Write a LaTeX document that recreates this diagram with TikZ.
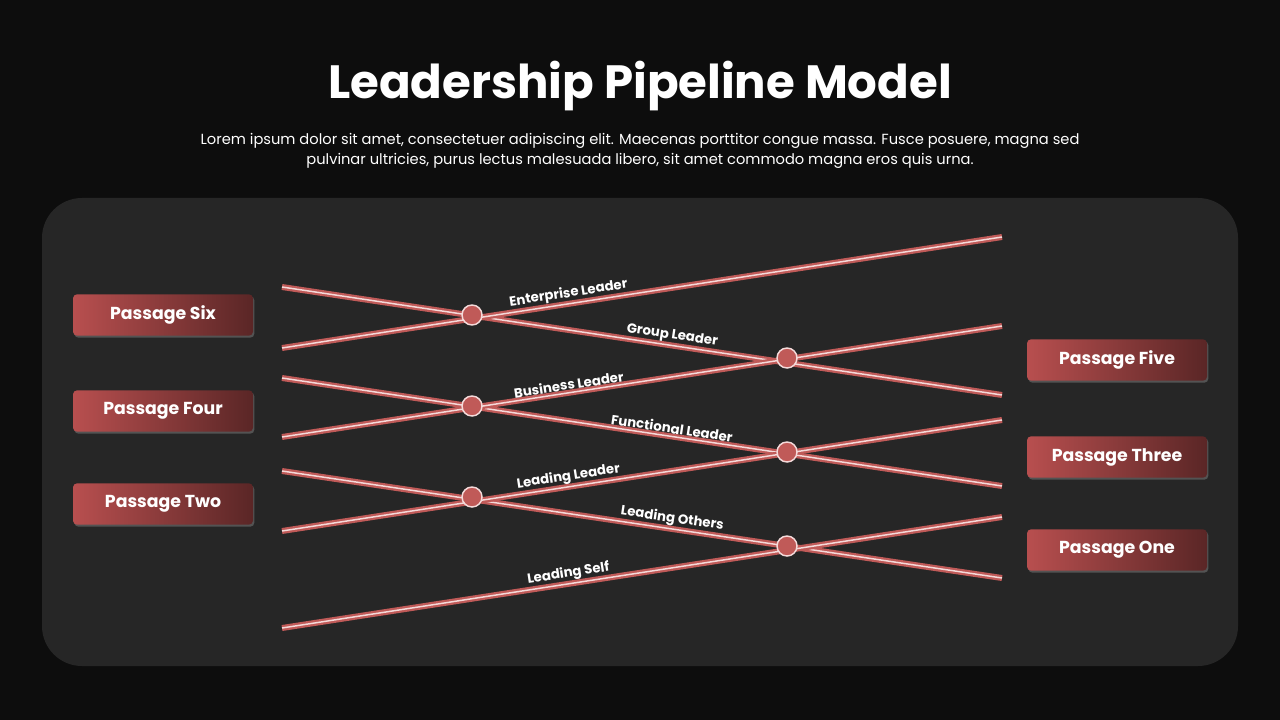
\documentclass[tikz,border=0pt]{standalone}
\usepackage{fontspec}
\setmainfont{Poppins}
\usetikzlibrary{shadows}
\definecolor{bg}{HTML}{0D0D0D}
\definecolor{panel}{HTML}{262626}
\definecolor{rl}{HTML}{B84F4F}
\definecolor{rd}{HTML}{5A2626}
\definecolor{band}{HTML}{C05A58}
\definecolor{core}{HTML}{F4DADA}
\tikzset{
  pbox/.style={minimum width=135pt,minimum height=31pt,rounded corners=3pt,left color=rl,right color=rd,text=white,font=\fontsize{13}{15}\selectfont\bfseries,drop shadow={shadow xshift=1pt,shadow yshift=-1.5pt,opacity=0.5}},
  lbl/.style={sloped,above,text=white,font=\fontsize{10}{12}\selectfont\bfseries,inner sep=2pt},
  dot/.style={circle,minimum size=15pt,inner sep=0pt,fill=band,draw=core,line width=1.1pt}
}
\newcommand{\pline}[2]{\draw[band,line width=4.5pt] (#1) -- (#2); \draw[core,line width=1.1pt] (#1) -- (#2);}
\begin{document}
\begin{tikzpicture}[x=0.75pt,y=-0.75pt]
\fill[bg] (0,0) rectangle (1280,720);
\useasboundingbox (0,0) rectangle (1280,720);
\fill[panel,rounded corners=30pt] (42,198) rectangle (1238,666);
\node[text=white,font=\fontsize{35}{40}\selectfont\bfseries] (title) at (640,86) {Leadership Pipeline Model};
\node[text=white,align=center,font=\fontsize{11}{15}\selectfont] (sub) at (640,151) {Lorem ipsum dolor sit amet, consectetuer adipiscing elit. Maecenas porttitor congue massa. Fusce posuere, magna sed\\pulvinar ultricies, purus lectus malesuada libero, sit amet commodo magna eros quis urna.};
\coordinate (a1) at (282,287); \coordinate (a2) at (1002,395);
\coordinate (b1) at (282,348); \coordinate (b2) at (1002,237);
\coordinate (c1) at (282,378); \coordinate (c2) at (1002,486);
\coordinate (d1) at (282,437); \coordinate (d2) at (1002,326);
\coordinate (e1) at (282,471); \coordinate (e2) at (1002,578);
\coordinate (f1) at (282,531); \coordinate (f2) at (1002,420);
\coordinate (g1) at (282,628); \coordinate (g2) at (1002,517);
\pline{a1}{a2}\pline{b1}{b2}\pline{c1}{c2}\pline{d1}{d2}\pline{e1}{e2}\pline{f1}{f2}\pline{g1}{g2}
\path (b1) -- (b2) node[lbl,pos=0.4] (l1) {Enterprise Leader};
\path (a1) -- (a2) node[lbl,pos=0.54] (l2) {Group Leader};
\path (d1) -- (d2) node[lbl,pos=0.4] (l3) {Business Leader};
\path (c1) -- (c2) node[lbl,pos=0.54] (l4) {Functional Leader};
\path (f1) -- (f2) node[lbl,pos=0.4] (l5) {Leading Leader};
\path (e1) -- (e2) node[lbl,pos=0.54] (l6) {Leading Others};
\path (g1) -- (g2) node[lbl,pos=0.4] (l7) {Leading Self};
\node[dot] (k1) at (472,315) {};
\node[dot] (k2) at (787,358) {};
\node[dot] (k3) at (472,406) {};
\node[dot] (k4) at (787,452) {};
\node[dot] (k5) at (472,497) {};
\node[dot] (k6) at (787,546) {};
\node[pbox] (p6) at (163,315) {Passage Six};
\node[pbox] (p4) at (163,411) {Passage Four};
\node[pbox] (p2) at (163,504) {Passage Two};
\node[pbox] (p5) at (1117,360) {Passage Five};
\node[pbox] (p3) at (1117,457) {Passage Three};
\node[pbox] (p1) at (1117,550) {Passage One};
\end{tikzpicture}
\end{document}
